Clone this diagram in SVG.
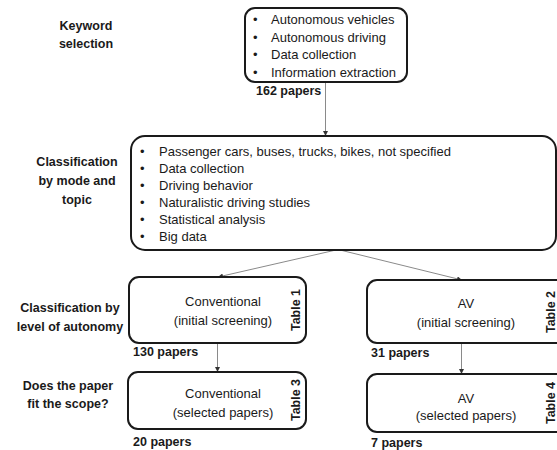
<svg xmlns="http://www.w3.org/2000/svg" width="557" height="450" viewBox="0 0 557 450">
  <style>
    .box { fill: #fff; stroke: #1a1a1a; stroke-width: 2; }
    .t { font-family: "Liberation Sans", Arial, sans-serif; font-size: 13px; fill: #1a1a1a; }
    .b { font-family: "Liberation Sans", Arial, sans-serif; font-size: 12.5px; font-weight: bold; fill: #1a1a1a; }
    .c { text-anchor: middle; }
    .conn { stroke: #8a8a8a; stroke-width: 1; fill: none; marker-end: url(#arr); }
  </style>
  <defs>
    <marker id="arr" viewBox="0 0 6 6" refX="6" refY="3" markerWidth="5" markerHeight="5" orient="auto" markerUnits="userSpaceOnUse">
      <path d="M0,0 L6,3 L0,6 z" fill="#333"/>
    </marker>
  </defs>

  <!-- stage labels -->
  <g id="stage-labels" class="b c">
    <text x="86" y="30">Keyword</text>
    <text x="86" y="48">selection</text>
    <text x="77" y="166">Classification</text>
    <text x="77" y="185">by mode and</text>
    <text x="77" y="204">topic</text>
    <text x="70" y="312">Classification by</text>
    <text x="70" y="331">level of autonomy</text>
    <text x="68" y="390">Does the paper</text>
    <text x="68" y="408">fit the scope?</text>
  </g>

  <!-- connectors -->
  <g id="connectors">
    <line class="conn" x1="325.5" y1="82" x2="325.5" y2="136"/>
    <line class="conn" x1="336" y1="250" x2="218" y2="277"/>
    <line class="conn" x1="340" y1="250" x2="462" y2="280"/>
    <line class="conn" x1="217.5" y1="343" x2="217.5" y2="372"/>
    <line class="conn" x1="461.5" y1="343" x2="461.5" y2="374"/>
  </g>

  <!-- keyword selection -->
  <g id="keywords">
    <rect class="box" x="245" y="8" width="162" height="74" rx="10"/>
    <g class="t">
      <text x="253" y="24">•</text><text x="271" y="24">Autonomous vehicles</text>
      <text x="253" y="42">•</text><text x="271" y="42">Autonomous driving</text>
      <text x="253" y="59">•</text><text x="271" y="59">Data collection</text>
      <text x="253" y="77">•</text><text x="271" y="77">Information extraction</text>
    </g>
    <text class="b" x="256" y="95">162 papers</text>
  </g>

  <!-- mode and topic -->
  <g id="topics">
    <rect class="box" x="131" y="136" width="425" height="114" rx="14"/>
    <g class="t">
      <text x="140" y="156">•</text><text x="159" y="156">Passenger cars, buses, trucks, bikes, not specified</text>
      <text x="140" y="173">•</text><text x="159" y="173">Data collection</text>
      <text x="140" y="190">•</text><text x="159" y="190">Driving behavior</text>
      <text x="140" y="207">•</text><text x="159" y="207">Naturalistic driving studies</text>
      <text x="140" y="224">•</text><text x="159" y="224">Statistical analysis</text>
      <text x="140" y="241">•</text><text x="159" y="241">Big data</text>
    </g>
  </g>

  <!-- conventional, initial screening -->
  <g id="conv-initial">
    <rect class="box" x="129" y="277" width="177" height="66" rx="10"/>
    <text class="t c" x="223" y="306">Conventional</text>
    <text class="t c" x="223" y="325">(initial screening)</text>
    <text class="b c" transform="translate(300 310) rotate(-90)">Table 1</text>
    <text class="b" x="133" y="356">130 papers</text>
  </g>

  <!-- conventional, selected -->
  <g id="conv-selected">
    <rect class="box" x="128" y="372" width="178" height="57" rx="10"/>
    <text class="t c" x="223" y="398">Conventional</text>
    <text class="t c" x="223" y="417">(selected papers)</text>
    <text class="b c" transform="translate(300 400) rotate(-90)">Table 3</text>
    <text class="b" x="133" y="446">20 papers</text>
  </g>

  <!-- AV, initial screening -->
  <g id="av-initial">
    <rect class="box" x="367" y="280" width="200" height="63" rx="10"/>
    <text class="t c" x="466" y="308">AV</text>
    <text class="t c" x="466" y="327">(initial screening)</text>
    <text class="b c" transform="translate(555 312) rotate(-90)">Table 2</text>
    <text class="b" x="371" y="357">31 papers</text>
  </g>

  <!-- AV, selected -->
  <g id="av-selected">
    <rect class="box" x="367" y="374" width="200" height="58" rx="10"/>
    <text class="t c" x="466" y="403">AV</text>
    <text class="t c" x="466" y="420">(selected papers)</text>
    <text class="b c" transform="translate(555 403) rotate(-90)">Table 4</text>
    <text class="b" x="371" y="447">7 papers</text>
  </g>
</svg>
